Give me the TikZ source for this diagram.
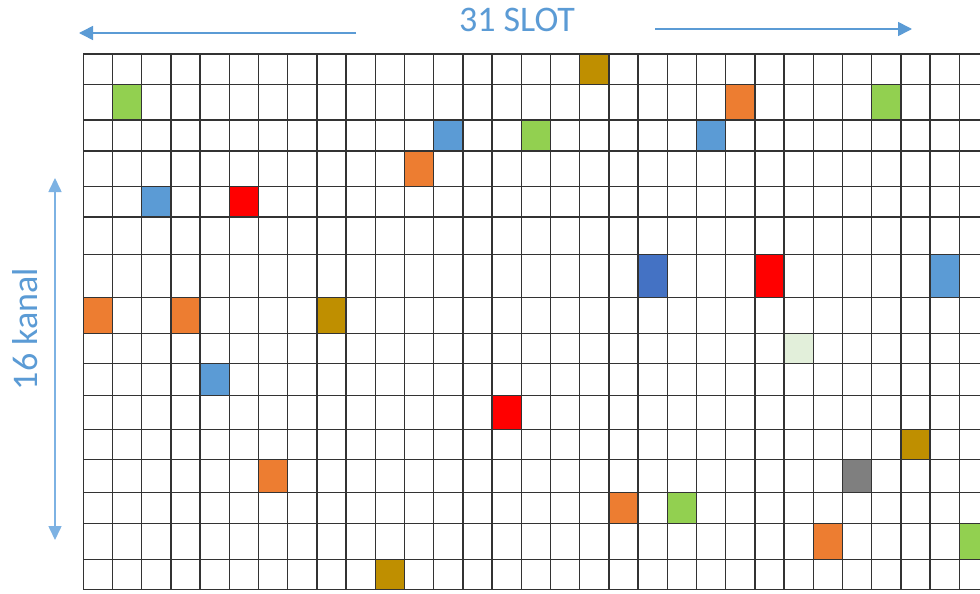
\documentclass[tikz,border=0pt]{standalone}
\usepackage{fontspec}
\setmainfont{Carlito}
\usetikzlibrary{arrows.meta}
\definecolor{cgold}{HTML}{BF8F00}
\definecolor{cgreen}{HTML}{92D050}
\definecolor{corange}{HTML}{ED7D31}
\definecolor{cblue}{HTML}{5B9BD5}
\definecolor{cdblue}{HTML}{4472C4}
\definecolor{cred}{HTML}{FF0000}
\definecolor{clgreen}{HTML}{E2EFDA}
\definecolor{cgray}{HTML}{7F7F7F}
\definecolor{carrow}{HTML}{5B9BD5}
\definecolor{carrowv}{HTML}{7DB2E3}
\tikzset{
  gridline/.style={line width=1.4pt, draw=black!80},
  dimarrow/.style={line width=1.6pt, draw=carrow, -{Triangle[width=14pt,length=14pt]}},
  dimarrowv/.style={line width=1.6pt, draw=carrowv, {Triangle[width=13pt,length=14pt]}-{Triangle[width=13pt,length=14pt]}},
  dimlabel/.style={text=cblue, font=\fontsize{36}{40}\selectfont, inner sep=0pt}
}
\begin{document}
\begin{tikzpicture}[x=1pt,y=-1pt]
\useasboundingbox (0,0) rectangle (980,594);
\fill[white] (0,0) rectangle (980,594);
\def\rowy{{54,84.5,120,151,186.5,217,254.5,297.5,333.3,363.3,395.5,429.3,459.2,492.7,523.3,559.3,589.3}}
\begin{scope}
\clip (0,0) rectangle (980,594);
\foreach \c/\r/\col in {17/0/cgold, 1/1/cgreen, 22/1/corange, 27/1/cgreen,
  12/2/cblue, 15/2/cgreen, 21/2/cblue, 11/3/corange, 2/4/cblue, 5/4/cred,
  19/6/cdblue, 23/6/cred, 29/6/cblue, 0/7/corange, 3/7/corange, 8/7/cgold,
  24/8/clgreen, 4/9/cblue, 14/10/cred, 28/11/cgold, 26/12/cgray, 6/12/corange,
  18/13/corange, 20/13/cgreen, 25/14/corange, 30/14/cgreen, 10/15/cgold}{
  \pgfmathsetmacro\ya{\rowy[\r]}
  \pgfmathsetmacro\yb{\rowy[\r+1]}
  \fill[\col] ({83.3+29.2*\c},\ya) rectangle ({83.3+29.2*(\c+1)},\yb);
}
\foreach \k in {0,...,31}{
  \draw[gridline] ({83.3+29.2*\k},54) -- ({83.3+29.2*\k},589.3);
}
\foreach \y in {54,84.5,120,151,186.5,217,254.5,297.5,333.3,363.3,395.5,429.3,459.2,492.7,523.3,559.3,589.3}{
  \draw[gridline] (83.3,\y) -- (988.5,\y);
}
\end{scope}
\node[dimlabel] (slot) at (517,19.5) {31 SLOT};
\node[dimlabel, rotate=90] (kanal) at (25,329) {16 kanal};
\coordinate (la) at (356,33);
\coordinate (lb) at (79,33);
\coordinate (ra) at (655,29);
\coordinate (rb) at (912,29);
\coordinate (va) at (55,178);
\coordinate (vb) at (55,540);
\draw[dimarrow] (la) -- (lb);
\draw[dimarrow] (ra) -- (rb);
\draw[dimarrowv] (va) -- (vb);
\end{tikzpicture}
\end{document}
